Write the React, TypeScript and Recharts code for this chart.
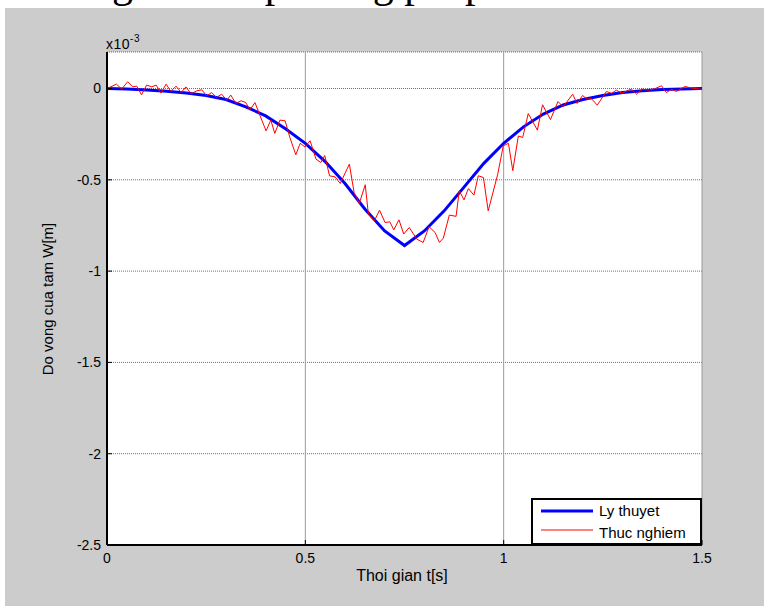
import { LineChart, Line, XAxis, YAxis, CartesianGrid } from 'recharts';

// W in units of 1e-3 m, as shown on the axis
const xTicks = [0, 0.5, 1, 1.5];
const yTicks = [-2.5, -2, -1.5, -1, -0.5, 0];

const theoryT = [
  0, 0.05, 0.1, 0.15, 0.2, 0.25, 0.3, 0.35, 0.4, 0.45, 0.5, 0.55, 0.6, 0.65, 0.7, 0.75,
  0.8, 0.85, 0.9, 0.95, 1.0, 1.05, 1.1, 1.15, 1.2, 1.25, 1.3, 1.35, 1.4, 1.45, 1.5,
];
const theoryW = [
  0, -0.003, -0.008, -0.015, -0.024, -0.038, -0.06, -0.1, -0.15, -0.22, -0.3, -0.4, -0.52, -0.66, -0.78, -0.86,
  -0.78, -0.67, -0.54, -0.41, -0.3, -0.21, -0.14, -0.09, -0.06, -0.038, -0.022, -0.012, -0.005, -0.002, 0,
];

const measT = [
  0, 0.024, 0.037, 0.052, 0.065, 0.075, 0.087, 0.1, 0.113, 0.124, 0.136, 0.149, 0.161, 0.174, 0.187, 0.199,
  0.212, 0.226, 0.239, 0.251, 0.264, 0.276, 0.289, 0.302, 0.312, 0.325, 0.338, 0.35, 0.36, 0.373, 0.386, 0.401,
  0.413, 0.423, 0.436, 0.449, 0.461, 0.476, 0.487, 0.499, 0.512, 0.527, 0.539, 0.549, 0.561, 0.575, 0.588, 0.611,
  0.623, 0.636, 0.651, 0.659, 0.674, 0.687, 0.701, 0.713, 0.723, 0.736, 0.748, 0.762, 0.781, 0.797, 0.812, 0.827,
  0.838, 0.848, 0.863, 0.88, 0.888, 0.9, 0.911, 0.925, 0.936, 0.949, 0.961, 0.985, 0.999, 1.012, 1.023, 1.037,
  1.048, 1.062, 1.085, 1.098, 1.118, 1.137, 1.15, 1.174, 1.185, 1.199, 1.21, 1.221, 1.236, 1.259, 1.272, 1.284,
  1.297, 1.322, 1.335, 1.348, 1.365, 1.38, 1.398, 1.41, 1.423, 1.436, 1.457, 1.475, 1.495, 1.5,
];
const measW = [
  0, 0.024, -0.003, 0.037, 0.009, 0.013, -0.035, 0.019, 0.009, 0.019, -0.025, 0.024, -0.016, 0.013, -0.022, 0.009,
  -0.029, -0.013, -0.007, -0.04, -0.022, -0.049, -0.031, -0.064, -0.036, -0.082, -0.067, -0.077, -0.118, -0.077, -0.15, -0.232,
  -0.173, -0.246, -0.173, -0.177, -0.268, -0.363, -0.3, -0.32, -0.286, -0.387, -0.405, -0.367, -0.478, -0.484, -0.52, -0.414,
  -0.57, -0.63, -0.527, -0.688, -0.725, -0.666, -0.734, -0.73, -0.774, -0.719, -0.797, -0.761, -0.825, -0.843, -0.757, -0.788,
  -0.843, -0.819, -0.693, -0.7, -0.56, -0.61, -0.548, -0.584, -0.478, -0.487, -0.67, -0.47, -0.314, -0.3, -0.45, -0.26,
  -0.268, -0.137, -0.228, -0.089, -0.17, -0.071, -0.1, -0.031, -0.082, -0.038, -0.058, -0.055, -0.091, -0.016, -0.027, -0.009,
  -0.025, -0.003, -0.031, -0.003, -0.009, -0.002, 0.015, -0.022, -0.005, -0.016, 0.011, 0.002, -0.003, -0.003,
];

const theory = theoryT.map((t, i) => ({ t, w: theoryW[i] }));
const measured = measT.map((t, i) => ({ t, w: measW[i] }));

const font = '"Liberation Sans", Arial, sans-serif';
const tickStyle = { fill: '#000', fontSize: 14, fontFamily: font };

export default function App() {
  return (
    <div style={{ position: 'absolute', left: 0, top: 0, width: 764, height: 606, background: '#fff', overflow: 'hidden' }}>
      {/* caption line of the page above the figure, only its descenders show */}
      <svg width={764} height={20} style={{ position: 'absolute', left: 0, top: 0 }}>
        <text y={-3} fontSize={42} fontFamily='"Liberation Serif", serif' fill="#000">
          <tspan x={133} textAnchor="end">Biểu đồ võng</tspan>
          <tspan x={182}>theo phương pháp</tspan>
        </text>
      </svg>
      <div style={{ position: 'absolute', left: 5, top: 8, right: 0, bottom: 0, background: '#cccccc' }} />

      <LineChart
        width={764}
        height={606}
        margin={{ top: 52, right: 62, bottom: 31, left: 67 }}
        style={{ position: 'absolute', left: 0, top: 0 }}
      >
        <CartesianGrid fill="#fff" vertical={false} stroke="#6e6e6e" strokeDasharray="1 1" />
        <CartesianGrid horizontal={false} stroke="#9a9a9a" />
        <XAxis
          dataKey="t"
          type="number"
          domain={[0, 1.5]}
          ticks={xTicks}
          interval={0}
          height={30}
          tickSize={-5}
          tickMargin={13}
          axisLine={{ stroke: '#000', strokeWidth: 2 }}
          tickLine={{ stroke: '#000', strokeWidth: 1 }}
          tick={tickStyle}
        />
        <XAxis
          xAxisId="top"
          orientation="top"
          dataKey="t"
          type="number"
          domain={[0, 1.5]}
          ticks={xTicks}
          height={0}
          tickSize={-5}
          axisLine={{ stroke: '#000', strokeWidth: 2 }}
          tickLine={{ stroke: '#000', strokeWidth: 1 }}
          tick={false}
        />
        <YAxis
          type="number"
          domain={[-2.5, 0.2]}
          ticks={yTicks}
          interval={0}
          width={40}
          tickSize={-5}
          tickMargin={11}
          axisLine={{ stroke: '#000', strokeWidth: 2 }}
          tickLine={{ stroke: '#000', strokeWidth: 1 }}
          tick={tickStyle}
        />
        <YAxis
          yAxisId="right"
          orientation="right"
          type="number"
          domain={[-2.5, 0.2]}
          ticks={yTicks}
          width={0}
          tickSize={-5}
          axisLine={{ stroke: '#000', strokeWidth: 2 }}
          tickLine={{ stroke: '#000', strokeWidth: 1 }}
          tick={false}
        />
        <Line data={theory} dataKey="w" type="linear" stroke="#0000ff" strokeWidth={3} dot={false} isAnimationActive={false} />
        <Line data={measured} dataKey="w" type="linear" stroke="#ff0000" strokeWidth={1} dot={false} isAnimationActive={false} />
      </LineChart>

      <div style={{ position: 'absolute', left: 106, top: 33, fontFamily: font, fontSize: 14, lineHeight: '14px', letterSpacing: 0.5, color: '#000' }}>
        x10<sup style={{ fontSize: 10, position: 'relative', top: -1 }}>-3</sup>
      </div>
      <div style={{ position: 'absolute', left: 302, width: 200, top: 567, textAlign: 'center', fontFamily: font, fontSize: 16, color: '#000' }}>
        Thoi gian t[s]
      </div>
      <div
        style={{
          position: 'absolute',
          left: 48 - 100,
          top: 299 - 10,
          width: 200,
          textAlign: 'center',
          transform: 'rotate(-90deg)',
          fontFamily: font,
          fontSize: 15,
          lineHeight: '20px',
          color: '#000',
        }}
      >
        Do vong cua tam W[m]
      </div>

      <div
        style={{
          position: 'absolute',
          left: 531,
          top: 498,
          width: 171,
          height: 47,
          boxSizing: 'border-box',
          border: '2px solid #000',
          background: '#fff',
          fontFamily: font,
          fontSize: 15,
          color: '#000',
        }}
      >
        <svg width={62} height={44} style={{ position: 'absolute', left: 0, top: 0 }}>
          <line x1={8} x2={60} y1={11} y2={11} stroke="#0000ff" strokeWidth={3} />
          <line x1={8} x2={60} y1={30} y2={30} stroke="#ff0000" strokeWidth={1} />
        </svg>
        <div style={{ position: 'absolute', left: 66, top: 2 }}>Ly thuyet</div>
        <div style={{ position: 'absolute', left: 66, top: 24 }}>Thuc nghiem</div>
      </div>
    </div>
  );
}
